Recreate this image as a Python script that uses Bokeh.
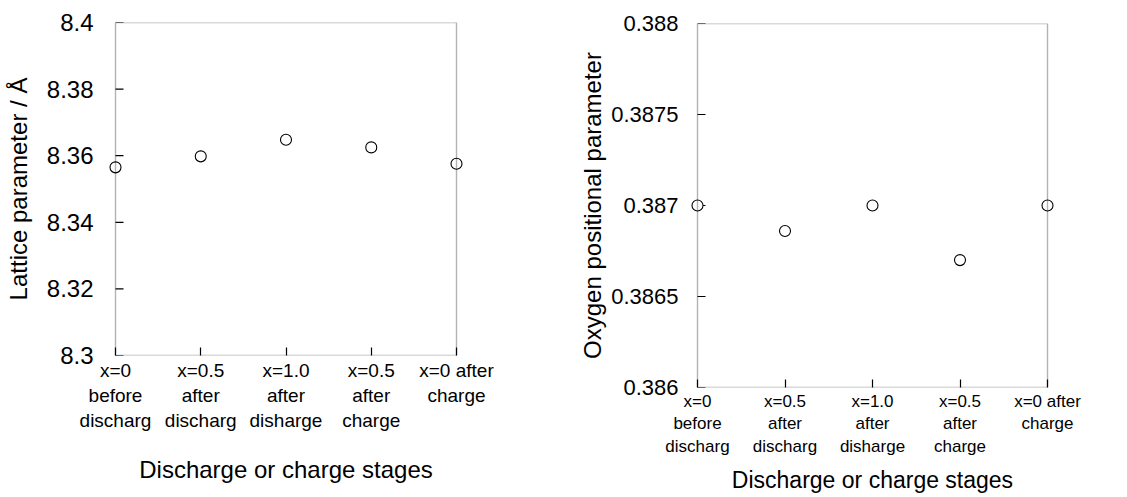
from bokeh.plotting import figure
from bokeh.layouts import row
from bokeh.models import FixedTicker, Range1d, BoxAnnotation
from bokeh.embed import file_html
from bokeh.resources import INLINE

# ---- data ----
stage_pos = [0, 1, 2, 3, 4]
stage_labels = [
    "x=0\nbefore\ndischarg",
    "x=0.5\nafter\ndischarg",
    "x=1.0\nafter\ndisharge",
    "x=0.5\nafter\ncharge",
    "x=0 after\ncharge",
]
lattice = [8.3565, 8.3598, 8.3648, 8.3625, 8.3576]
oxygen = [0.3870, 0.38686, 0.3870, 0.38670, 0.3870]
lattice_ticks = [8.30, 8.32, 8.34, 8.36, 8.38, 8.40]
lattice_tick_labels = ["8.3", "8.32", "8.34", "8.36", "8.38", "8.4"]
oxygen_ticks = [0.386, 0.3865, 0.387, 0.3875, 0.388]
oxygen_tick_labels = ["0.386", "0.3865", "0.387", "0.3875", "0.388"]
xlabel_text = "Discharge or charge stages"

FONT = "Liberation Sans"
PAD_PX = 9
TICK_PX = 8


def make_panel(width, height, box_left, box_right, top, bottom, yvals, yticks, yticklabels,
               ylabel, ytick_size, xtick_size, xlabel_size, ylab_standoff, ytick_gap,
               xlab_standoff):
    box_w = box_right - box_left
    x0, x1 = stage_pos[0], stage_pos[-1]
    pad = (x1 - x0) * PAD_PX / box_w
    p = figure(width=width, height=height, output_backend="svg", toolbar_location=None,
               x_range=Range1d(x0 - pad, x1 + pad),
               y_range=Range1d(yticks[0], yticks[-1]),
               min_border_left=box_left - PAD_PX, min_border_right=width - box_right - PAD_PX,
               min_border_top=top, min_border_bottom=bottom, frame_align=False)
    p.grid.visible = False
    p.outline_line_color = None
    p.background_fill_color = "white"
    p.border_fill_color = "white"

    # plot box
    p.add_layout(BoxAnnotation(left=x0, right=x1, bottom=yticks[0], top=yticks[-1],
                               fill_alpha=0, line_color="black", line_width=1.4,
                               level="overlay"))

    # y ticks pointing inward from the box edge
    p.ray(x=[x0] * len(yticks), y=yticks, length=TICK_PX, length_units="screen",
          angle=0, line_color="black", line_width=1.2)

    p.xaxis.ticker = FixedTicker(ticks=stage_pos)
    p.xaxis.major_label_overrides = {pos: lab for pos, lab in zip(stage_pos, stage_labels)}
    p.xaxis.axis_line_color = None
    p.xaxis.major_tick_in = TICK_PX
    p.xaxis.major_tick_out = 0
    p.xaxis.major_tick_line_color = "black"
    p.xaxis.major_tick_line_width = 1.2

    p.yaxis.ticker = FixedTicker(ticks=yticks)
    p.yaxis.major_label_overrides = {t: lab for t, lab in zip(yticks, yticklabels)}
    p.yaxis.axis_line_color = None
    p.yaxis.major_tick_line_color = None
    p.yaxis.major_tick_in = 0
    p.yaxis.major_tick_out = 0

    for ax in (p.xaxis, p.yaxis):
        ax.minor_tick_in = 0
        ax.minor_tick_out = 0
        ax.minor_tick_line_color = None
        ax.major_label_text_font = FONT
        ax.axis_label_text_font = FONT
        ax.axis_label_text_font_style = "normal"
        ax.major_label_text_color = "black"
        ax.axis_label_text_color = "black"

    p.yaxis.major_label_text_font_size = ytick_size
    p.yaxis.major_label_standoff = ytick_gap - PAD_PX
    p.yaxis.axis_label = ylabel
    p.yaxis.axis_label_text_font_size = "24px"
    p.yaxis.axis_label_standoff = ylab_standoff

    p.xaxis.major_label_text_font_size = xtick_size
    p.xaxis.major_label_standoff = 4
    p.xaxis.axis_label = xlabel_text
    p.xaxis.axis_label_text_font_size = xlabel_size
    p.xaxis.axis_label_standoff = xlab_standoff

    p.scatter(stage_pos, yvals, size=11, fill_color="white", line_color="black", line_width=1.1)
    return p


p1 = make_panel(560, 497, 115, 456, 22, 142, lattice, lattice_ticks, lattice_tick_labels,
                "Lattice parameter / Å", "24px", "19px", "24px", 12, 22, 22)
p2 = make_panel(567, 497, 137, 487, 23, 110, oxygen, oxygen_ticks, oxygen_tick_labels,
                "Oxygen positional parameter", "22px", "17px", "23px", 2, 19, 8)

layout = row(p1, p2)
open("out.html", "w").write(file_html(layout, INLINE))
